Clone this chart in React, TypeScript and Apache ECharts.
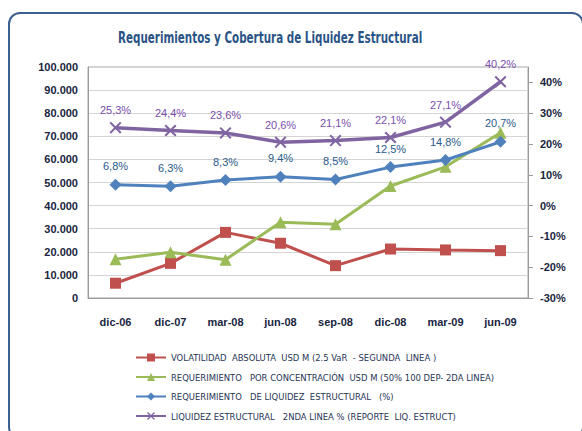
import React, { useEffect, useRef } from "react";
import * as echarts from "echarts";

const categories = ["dic-06", "dic-07", "mar-08", "jun-08", "sep-08", "dic-08", "mar-09", "jun-09"];
const volatilidad = [6400, 15000, 28400, 23700, 14000, 21200, 20800, 20500];
const reqConcentracion = [16800, 19800, 16600, 32800, 31900, 48500, 56800, 71500];
const reqLiquidez = [6.8, 6.3, 8.3, 9.4, 8.5, 12.5, 14.8, 20.7];
const liqEstructural = [25.3, 24.4, 23.6, 20.6, 21.1, 22.1, 27.1, 40.2];
const leftTicks = [0, 10000, 20000, 30000, 40000, 50000, 60000, 70000, 80000, 90000, 100000];
const rightTicks = [-30, -20, -10, 0, 10, 20, 30, 40];
const seriesNames = [
  "VOLATILIDAD  ABSOLUTA  USD M (2.5 VaR  - SEGUNDA  LINEA )",
  "REQUERIMIENTO   POR CONCENTRACIÓN  USD M (50% 100 DEP- 2DA LINEA)",
  "REQUERIMIENTO   DE LIQUIDEZ  ESTRUCTURAL   (%)",
  "LIQUIDEZ ESTRUCTURAL   2NDA LINEA % (REPORTE  LIQ. ESTRUCT)",
];
const titleText = "Requerimientos y Cobertura de Liquidez Estructural";

const NARROW = "'Liberation Sans Narrow', 'DejaVu Sans Condensed', 'Liberation Sans', sans-serif";
const SANS = "'Liberation Sans', Arial, sans-serif";

const fmtThousands = (v: number) => String(v).replace(/\B(?=(\d{3})+(?!\d))/g, ".");
const fmtPct = (v: number) => v.toFixed(1).replace(".", ",") + "%";

const xSymbol = "path://M0,1.2L1.2,0L5,3.8L8.8,0L10,1.2L6.2,5L10,8.8L8.8,10L5,6.2L1.2,10L0,8.8L3.8,5Z";

export default function App() {
  const ref = useRef<HTMLDivElement>(null);
  useEffect(() => {
    if (!ref.current) return;
    const chart = echarts.init(ref.current, null, { renderer: "svg" });
    chart.setOption({
      animation: false,
      backgroundColor: "#ffffff",
      graphic: [
        {
          type: "text",
          x: 118,
          y: 37,
          scaleX: 0.72,
          style: {
            text: titleText,
            fontFamily: NARROW,
            fontSize: 16,
            fontWeight: "bold",
            fill: "#2b5486",
            textVerticalAlign: "middle",
            textAlign: "left",
          },
        },
        {
          type: "rect",
          shape: { x: 9, y: 13, width: 574, height: 425, r: 11 },
          style: { fill: "none", stroke: "#3b6192", lineWidth: 2 },
          z: 100,
        },
      ],
      legend: {
        orient: "vertical",
        left: 130,
        top: 348,
        itemWidth: 30,
        itemHeight: 10,
        itemGap: 10.5,
        textStyle: { fontFamily: NARROW, fontSize: 9.4, color: "#1f3556" },
        data: seriesNames,
      },
      grid: {
        left: 88,
        right: 54,
        top: 67,
        bottom: 133,
        show: true,
        borderColor: "#a6a6a6",
        borderWidth: 1,
      },
      xAxis: {
        type: "category",
        data: categories,
        boundaryGap: true,
        axisLine: { show: true, lineStyle: { color: "#9a9a9a" } },
        axisTick: { show: false },
        axisLabel: { margin: 18, fontFamily: SANS, fontSize: 11, fontWeight: "bold", color: "#1a2540" },
      },
      yAxis: [
        {
          type: "value",
          min: 0,
          max: 100000,
          interval: 10000,
          position: "left",
          axisLine: { show: true, lineStyle: { color: "#9a9a9a" } },
          axisTick: { show: false },
          splitLine: { show: true, lineStyle: { color: "#d4d4d4", width: 1 } },
          axisLabel: {
            margin: 10,
            fontFamily: SANS,
            fontSize: 11,
            fontWeight: "bold",
            color: "#1a2540",
            customValues: leftTicks,
            formatter: (v: number) => fmtThousands(v),
          },
        },
        {
          type: "value",
          min: -30,
          max: 45,
          interval: 10,
          position: "right",
          axisLine: { show: true, lineStyle: { color: "#9a9a9a" } },
          axisTick: { show: true, inside: false, length: 5, lineStyle: { color: "#9a9a9a" }, customValues: rightTicks },
          splitLine: { show: false },
          axisLabel: {
            margin: 12,
            fontFamily: SANS,
            fontSize: 11,
            fontWeight: "bold",
            color: "#1a2540",
            customValues: rightTicks,
            formatter: (v: number) => v + "%",
          },
        },
      ],
      series: [
        {
          name: seriesNames[0],
          type: "line",
          yAxisIndex: 0,
          data: volatilidad,
          symbol: "rect",
          symbolSize: 11,
          z: 2,
          lineStyle: { width: 3, color: "#c0504d" },
          itemStyle: { color: "#c0504d" },
        },
        {
          name: seriesNames[1],
          type: "line",
          yAxisIndex: 0,
          data: reqConcentracion,
          symbol: "triangle",
          symbolSize: 12,
          z: 2,
          lineStyle: { width: 3, color: "#9bbb59" },
          itemStyle: { color: "#9bbb59" },
        },
        {
          name: seriesNames[2],
          type: "line",
          yAxisIndex: 1,
          data: reqLiquidez,
          symbol: "diamond",
          symbolSize: 12,
          z: 3,
          lineStyle: { width: 3, color: "#4f81bd" },
          itemStyle: { color: "#4f81bd" },
          label: {
            show: true,
            position: "top",
            distance: 7,
            fontFamily: SANS,
            fontSize: 11,
            color: "#2a5a8c",
            formatter: (p: any) => fmtPct(p.value),
          },
        },
        {
          name: seriesNames[3],
          type: "line",
          yAxisIndex: 1,
          data: liqEstructural,
          symbol: xSymbol,
          symbolSize: 12,
          z: 4,
          lineStyle: { width: 3.5, color: "#8064a2" },
          itemStyle: { color: "#8064a2" },
          label: {
            show: true,
            position: "top",
            distance: 6,
            fontFamily: SANS,
            fontSize: 11,
            color: "#7a4fae",
            formatter: (p: any) => fmtPct(p.value),
          },
        },
      ],
    });
    return () => chart.dispose();
  }, []);
  return (
    <div
      ref={ref}
      style={{ position: "fixed", left: 0, top: 0, width: 582, height: 431, background: "#fff" }}
    />
  );
}
